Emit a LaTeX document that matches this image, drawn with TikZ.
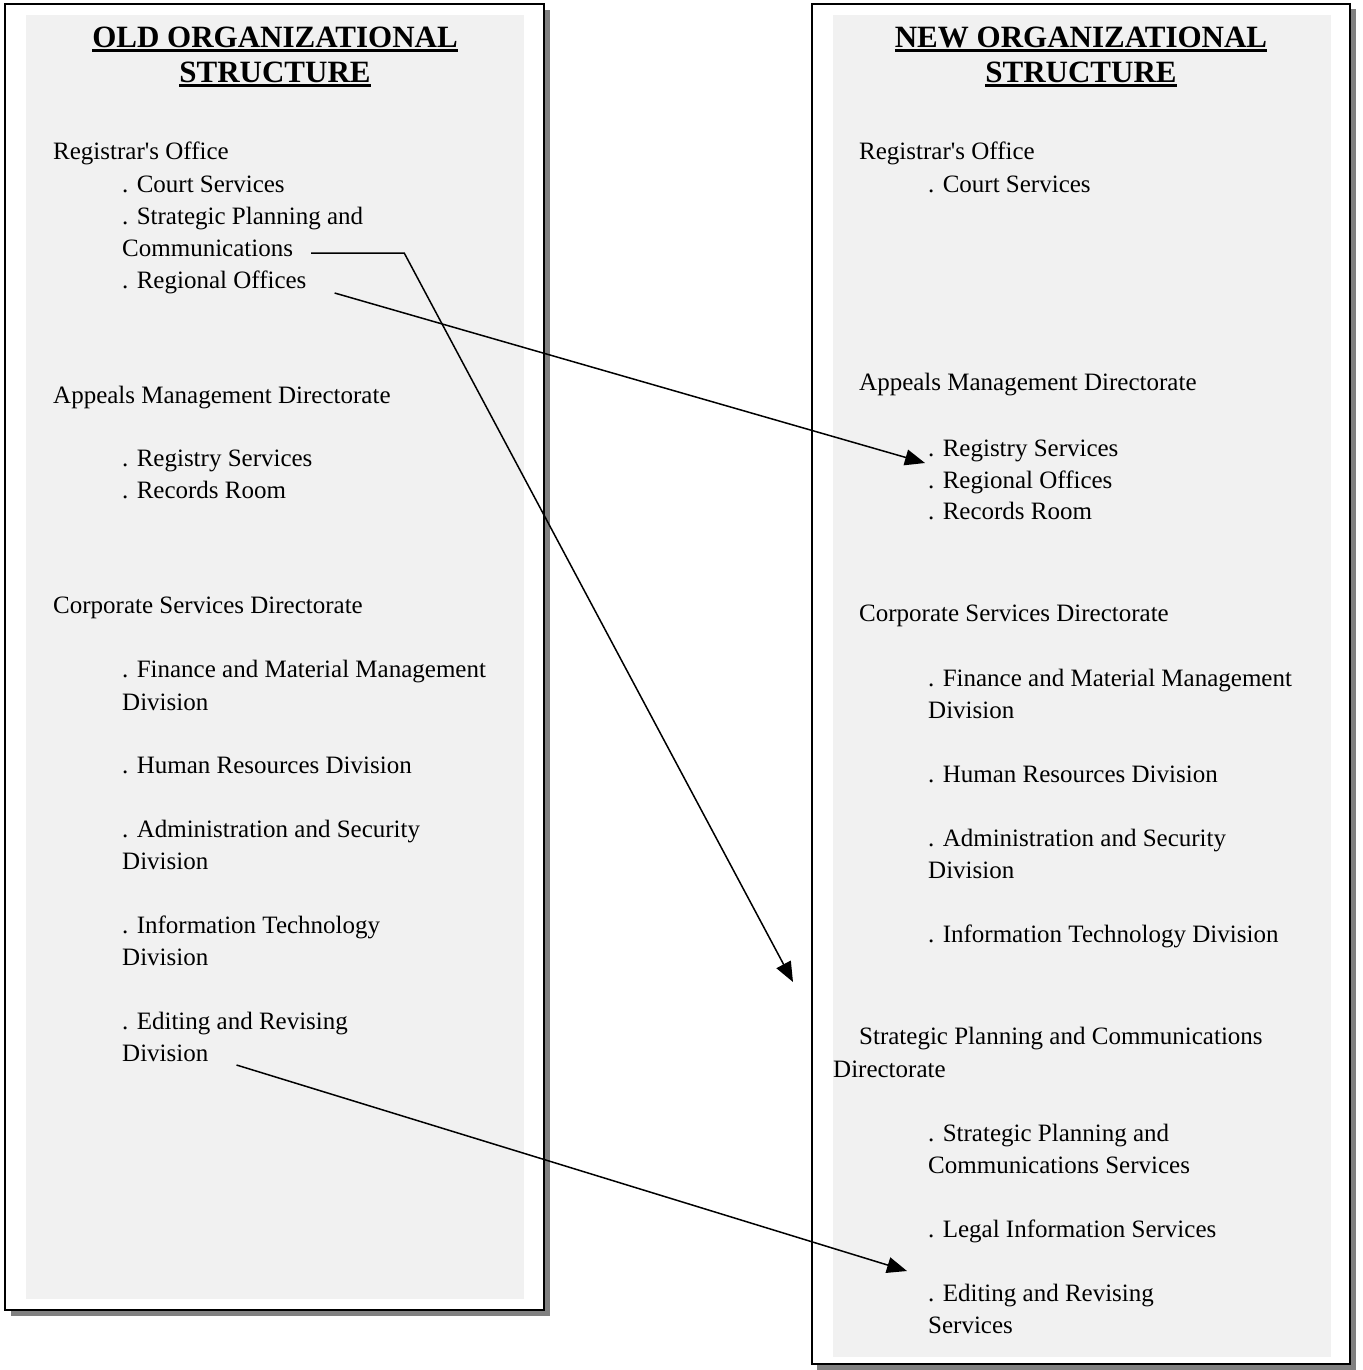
\documentclass[tikz,border=0pt]{standalone}
\usepackage{fontspec}
\setmainfont{Liberation Serif}
\usepackage{tikz}
\usetikzlibrary{arrows.meta,positioning,calc}
\definecolor{panelgray}{RGB}{241, 241, 241}
\definecolor{shadowgray}{RGB}{128, 128, 128}
\newsavebox{\titlebox}
\newcommand{\ulhead}[1]{\sbox{\titlebox}{#1}\rlap{\rule[-4pt]{\wd\titlebox}{2.5pt}}\usebox{\titlebox}}

\begin{document}
\begin{tikzpicture}[x=1pt, y=-1pt,
  entry/.style={anchor=base west, inner sep=0pt, font=\fontsize{25}{30}\selectfont},
  heading/.style={anchor=base, inner sep=0pt, font=\fontsize{31}{35}\selectfont\bfseries},
  link/.style={line width=1.5pt, -{Triangle[length=20pt,width=16pt]}}]
  \useasboundingbox (0,0) rectangle (1362,1370);
  % old structure panel
  \fill[shadowgray] (11,10) rectangle (550,1316);
  \draw[fill=white, line width=2.5pt] (5,4) rectangle (544,1310);
  \fill[panelgray] (26,15) rectangle (524,1299);
  % new structure panel
  \fill[shadowgray] (817,9) rectangle (1356,1370);
  \draw[fill=white, line width=2.5pt] (812,4) rectangle (1350,1364);
  \fill[panelgray] (833,15) rectangle (1331,1357);

  \node[heading] (oldtitle) at (275,48) {\ulhead{OLD ORGANIZATIONAL}};
  \node[heading] (oldtitleb) at (275,83) {\ulhead{STRUCTURE}};
  \node[entry] (oldreg) at (53,160) {Registrar\textquotesingle s Office};
  \node[entry] (oldcourt) at (122,192) {. Court Services};
  \node[entry] (oldspc) at (122,224) {. Strategic Planning and};
  \node[entry] (oldcomm) at (122,256) {Communications};
  \node[entry] (oldregion) at (122,288) {. Regional Offices};
  \node[entry] (oldappeals) at (53,403) {Appeals Management Directorate};
  \node[entry] (oldregistry) at (122,466) {. Registry Services};
  \node[entry] (oldrecords) at (122,498) {. Records Room};
  \node[entry] (oldcorp) at (53,613) {Corporate Services Directorate};
  \node[entry] (oldfin) at (122,677) {. Finance and Material Management};
  \node[entry] (oldfinb) at (122,710) {Division};
  \node[entry] (oldhr) at (122,773) {. Human Resources Division};
  \node[entry] (oldadm) at (122,837) {. Administration and Security};
  \node[entry] (oldadmb) at (122,869) {Division};
  \node[entry] (oldit) at (122,933) {. Information Technology};
  \node[entry] (olditb) at (122,965) {Division};
  \node[entry] (olded) at (122,1029) {. Editing and Revising};
  \node[entry] (oldedb) at (122,1061) {Division};

  \node[heading] (newtitle) at (1081,48) {\ulhead{NEW ORGANIZATIONAL}};
  \node[heading] (newtitleb) at (1081,83) {\ulhead{STRUCTURE}};
  \node[entry] (newreg) at (859,160) {Registrar\textquotesingle s Office};
  \node[entry] (newcourt) at (928,192) {. Court Services};
  \node[entry] (newappeals) at (859,390) {Appeals Management Directorate};
  \node[entry] (newregistry) at (928,456) {. Registry Services};
  \node[entry] (newregion) at (928,488) {. Regional Offices};
  \node[entry] (newrecords) at (928,519) {. Records Room};
  \node[entry] (newcorp) at (859,621) {Corporate Services Directorate};
  \node[entry] (newfin) at (928,686) {. Finance and Material Management};
  \node[entry] (newfinb) at (928,718) {Division};
  \node[entry] (newhr) at (928,782) {. Human Resources Division};
  \node[entry] (newadm) at (928,846) {. Administration and Security};
  \node[entry] (newadmb) at (928,878) {Division};
  \node[entry] (newit) at (928,942) {. Information Technology Division};
  \node[entry] (newspd) at (859,1044) {Strategic Planning and Communications};
  \node[entry] (newspdb) at (833,1077) {Directorate};
  \node[entry] (newsps) at (928,1141) {. Strategic Planning and};
  \node[entry] (newspsb) at (928,1173) {Communications Services};
  \node[entry] (newlegal) at (928,1237) {. Legal Information Services};
  \node[entry] (newed) at (928,1301) {. Editing and Revising};
  \node[entry] (newedb) at (928,1333) {Services};

  \coordinate (sptip) at (793,982);
  \draw[link] ([shift={(18,-3)}]oldcomm.base east) -- ++(93,0) -- (sptip);
  \draw[link] ([shift={(28,5)}]oldregion.base east) -- ([shift={(-3,7)}]newregistry.base west);
  \draw[link] ([shift={(28,4)}]oldedb.base east) -- ([shift={(-21,-30)}]newed.base west);
\end{tikzpicture}
\end{document}
